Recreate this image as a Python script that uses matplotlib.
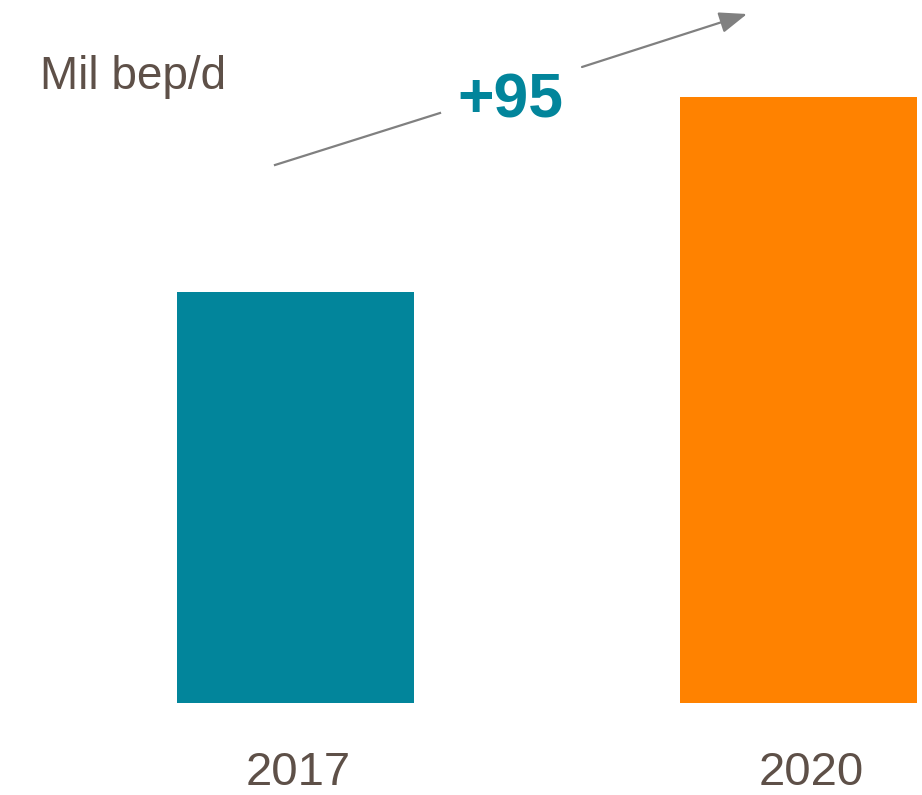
import matplotlib
matplotlib.use("Agg")
import matplotlib.pyplot as plt

# production, thousand boe/d
years = ["2017", "2020"]
values = [200, 295]
bar_colors = ["#02859B", "#FF8200"]
unit_label = "Mil bep/d"
delta_label = "+95"

text_color = "#5E5048"
font = ["Liberation Sans", "DejaVu Sans"]

W, H = 922, 795
fig = plt.figure(figsize=(W / 100, H / 100), dpi=100)

# axes spans the full width, baseline at y=703 px
base_px = 703
ax = fig.add_axes([0, (H - base_px) / H, 1, base_px / H])
px_per_unit = 606 / values[1]
ax.set_ylim(0, base_px / px_per_unit)

centers = [0, 1]
step = 502.5
ax.set_xlim(-295.5 / step, 1 + (W - 798) / step)
ax.bar(centers, values, width=237 / step, color=bar_colors)
ax.axis("off")


def fp(x, y):
    return (x / W, 1 - y / H)


# year labels under the bars
year_x = [298, 811]
for x, lab in zip(year_x, years):
    fig.text(*fp(x, 785), lab, ha="center", va="baseline",
             fontsize=34, color=text_color, family=font)

fig.text(*fp(40, 89), unit_label, ha="left", va="baseline",
         fontsize=33, color=text_color, family=font)

# growth arrow, broken where the label sits
arrow_col = "#808080"
fig.add_artist(plt.Line2D([275 / W, 440 / W], [1 - 165 / H, 1 - 113 / H],
                          color=arrow_col, lw=1.6))
ax.annotate("", xy=fp(747, 14), xytext=fp(582, 67),
            xycoords="figure fraction", textcoords="figure fraction",
            arrowprops=dict(arrowstyle="-|>,head_length=1.7,head_width=0.65",
                            color=arrow_col, lw=1.6, shrinkA=0, shrinkB=0))

fig.text(*fp(510, 117), delta_label, ha="center", va="baseline",
         fontsize=45, fontweight="bold", color=bar_colors[0], family=font)

fig.savefig("out.png", dpi=100, facecolor="white")
